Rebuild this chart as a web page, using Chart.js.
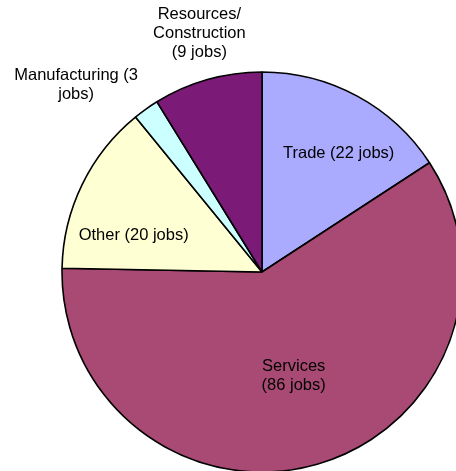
<!DOCTYPE html>
<html>
<head>
<meta charset="utf-8">
<script src="https://cdn.jsdelivr.net/npm/chart.js@4.4.0/dist/chart.umd.min.js"></script>
<style>
html,body{margin:0;padding:0;background:#fff;}
#c{display:block;}
</style>
</head>
<body>
<canvas id="c" width="456" height="471"></canvas>
<script>
const categories = ['Trade', 'Services', 'Other', 'Manufacturing', 'Resources/Construction'];
// job counts shown in the labels
const jobs = [22, 86, 20, 3, 9];
// slice shares (%) as drawn in the picture
const shares = [15.8, 59.5, 13.8, 2.1, 8.8];
const labelLines = [
  ['Trade (22 jobs)'],
  ['Services', '(86 jobs)'],
  ['Other (20 jobs)'],
  ['Manufacturing (3', 'jobs)'],
  ['Resources/', 'Construction', '(9 jobs)']
];
const sliceColors = ['#aaaaff', '#a94a74', '#ffffd4', '#ccffff', '#7b1a77'];

// label placement relative to each slice: angle shift (deg) from mid-angle, radius fraction
const labelPlacement = [
  {da: 4.35, f: 0.708},
  {da: -1.0, f: 0.541},
  {da: -9.9, f: 0.6675},
  {da: -9.4, f: 1.3175},
  {da: 1.15, f: 1.235}
];

const sliceLabels = {
  id: 'sliceLabels',
  afterDatasetsDraw(chart) {
    const ctx = chart.ctx;
    const meta = chart.getDatasetMeta(0);
    ctx.save();
    ctx.font = '16.5px "Liberation Sans", Arial, sans-serif';
    ctx.fillStyle = '#000';
    ctx.textAlign = 'center';
    ctx.textBaseline = 'middle';
    const lh = 19;
    meta.data.forEach((arc, i) => {
      const p = arc.getProps(['x', 'y', 'startAngle', 'endAngle', 'outerRadius'], true);
      const mid = (p.startAngle + p.endAngle) / 2 + labelPlacement[i].da * Math.PI / 180;
      const r = p.outerRadius * labelPlacement[i].f;
      const cx = p.x + Math.cos(mid) * r;
      const cy = p.y + Math.sin(mid) * r;
      const lines = labelLines[i];
      const y0 = cy - (lines.length - 1) * lh / 2;
      lines.forEach((t, j) => ctx.fillText(t, cx, y0 + j * lh));
    });
    ctx.restore();
  }
};

new Chart(document.getElementById('c'), {
  type: 'pie',
  data: {
    labels: categories,
    datasets: [{
      data: shares,
      backgroundColor: sliceColors,
      borderColor: '#000',
      borderWidth: 1.6
    }]
  },
  options: {
    responsive: false,
    animation: false,
    radius: 200,
    layout: {padding: {left: 68, right: 0, top: 73, bottom: 0}},
    plugins: {legend: {display: false}, tooltip: {enabled: false}}
  },
  plugins: [sliceLabels]
});
</script>
</body>
</html>
